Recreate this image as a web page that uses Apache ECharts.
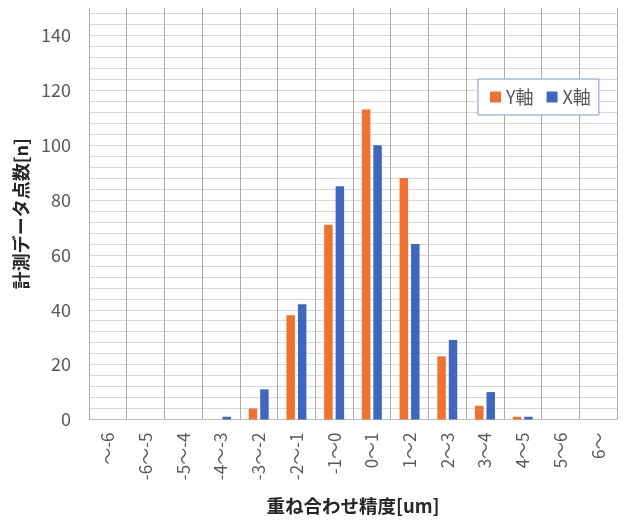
<!DOCTYPE html>
<html>
<head>
<meta charset="utf-8">
<script src="https://cdn.jsdelivr.net/npm/echarts@6/dist/echarts.min.js"></script>
<style>
  html, body { margin: 0; padding: 0; background: #ffffff; }
  #chart { width: 625px; height: 520px; }
</style>
</head>
<body>
<div id="chart"></div>
<script>
// 重ね合わせ精度のヒストグラム（Y軸・X軸）
const categories = ['〜-6', '-6〜-5', '-5〜-4', '-4〜-3', '-3〜-2', '-2〜-1', '-1〜0',
                    '0〜1', '1〜2', '2〜3', '3〜4', '4〜5', '5〜6', '6〜'];
const yAxisCounts = [0, 0, 0, 0, 4, 38, 71, 113, 88, 23, 5, 1, 0, 0];
const xAxisCounts = [0, 0, 0, 1, 11, 42, 85, 100, 64, 29, 10, 1, 0, 0];
const seriesNames = ['Y軸', 'X軸'];
const yTickLabels = [0, 20, 40, 60, 80, 100, 120, 140];

const FONT = '"Noto Sans CJK JP", "Noto Sans", sans-serif';
const chart = echarts.init(document.getElementById('chart'), null, { renderer: 'canvas' });

chart.setOption({
  backgroundColor: '#ffffff',
  animation: false,
  textStyle: { fontFamily: FONT },
  grid: { left: 89, right: 8, top: 8, bottom: 97, containLabel: false },
  legend: {
    data: seriesNames,
    left: 478,
    top: 79,
    padding: [9, 8, 9, 12],
    borderColor: '#7A96CF',
    borderWidth: 1,
    backgroundColor: '#ffffff',
    icon: 'rect',
    itemWidth: 11,
    itemHeight: 11,
    itemGap: 13,
    textStyle: { fontFamily: FONT, fontSize: 18, color: '#595959' }
  },
  xAxis: {
    type: 'category',
    data: categories,
    boundaryGap: true,
    name: '重ね合わせ精度[um]',
    nameLocation: 'middle',
    nameGap: 77,
    nameTextStyle: { fontFamily: FONT, fontSize: 18.5, fontWeight: 'bold', color: '#262626' },
    axisLine: { show: true, lineStyle: { color: '#BFBFBF', width: 1 } },
    axisTick: { show: false },
    axisLabel: { rotate: 90, margin: 13, fontFamily: FONT, fontSize: 17, color: '#595959', interval: 0 },
    splitLine: { show: true, lineStyle: { color: '#ABABAB', width: 1 } }
  },
  yAxis: {
    type: 'value',
    min: 0,
    max: 150,
    interval: 4,
    name: '計測データ点数[n]',
    nameLocation: 'middle',
    nameGap: 56,
    nameRotate: 90,
    nameTextStyle: { fontFamily: FONT, fontSize: 18, fontWeight: 'bold', color: '#262626' },
    axisLine: { show: false },
    axisTick: { show: false },
    axisLabel: {
      margin: 18,
      fontFamily: FONT,
      fontSize: 18,
      color: '#595959',
      showMaxLabel: false,
      formatter: function (v) { return yTickLabels.indexOf(v) >= 0 ? String(v) : ''; }
    },
    splitLine: { show: true, showMaxLine: false, lineStyle: { color: '#D9D9D9', width: 1 } }
  },
  series: [
    {
      name: seriesNames[0],
      type: 'bar',
      data: yAxisCounts,
      barWidth: 8.5,
      barGap: '35%',
      itemStyle: { color: '#EF7230' }
    },
    {
      name: seriesNames[1],
      type: 'bar',
      data: xAxisCounts,
      barWidth: 8.5,
      barGap: '35%',
      itemStyle: { color: '#3F67C0' }
    }
  ]
});
</script>
</body>
</html>
